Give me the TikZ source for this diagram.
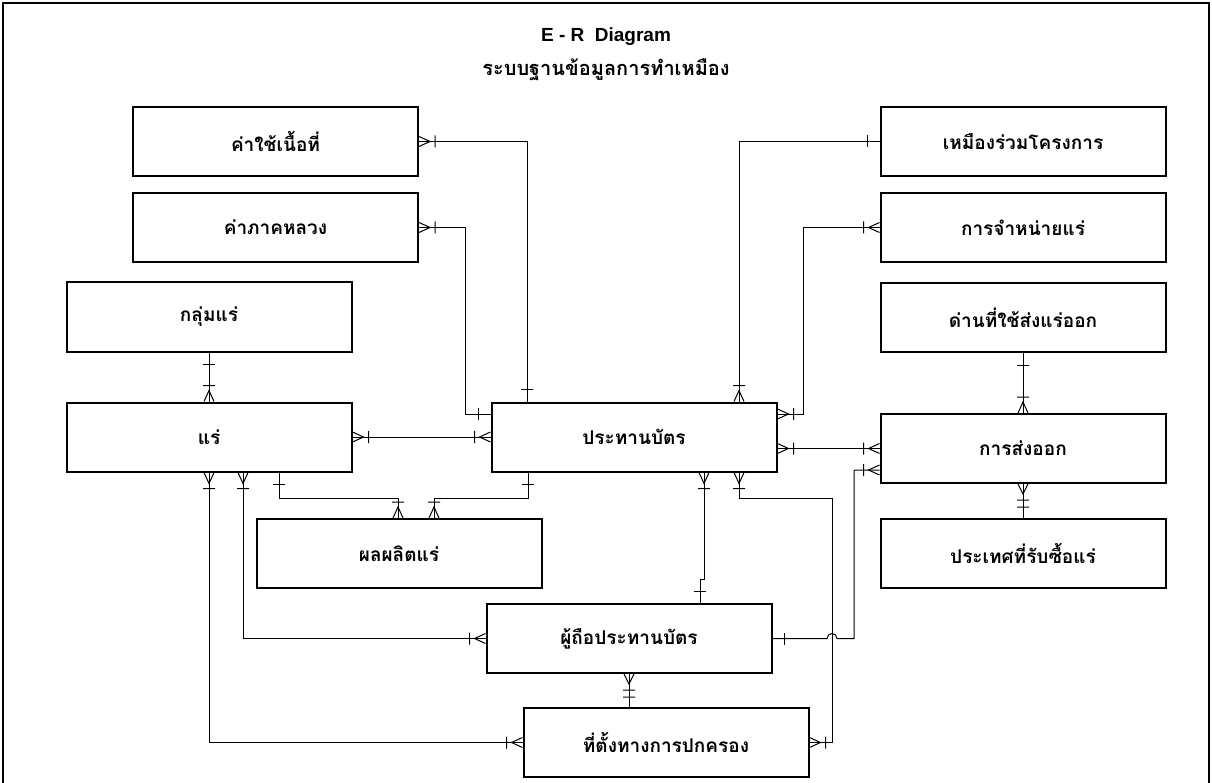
\documentclass[tikz,border=0pt]{standalone}
\usepackage{fontspec}
\setmainfont{Liberation Sans}
\newfontfamily\thaifont[Script=Thai]{Loma}
\usetikzlibrary{positioning}

% crow's foot ends
\pgfdeclarearrow{
  name = erone,
  setup code = {
    \pgfarrowssettipend{0pt}
    \pgfarrowssetlineend{0pt}
    \pgfarrowssetbackend{-13pt}
    \pgfarrowshullpoint{0pt}{6pt}
    \pgfarrowshullpoint{-13pt}{6pt}
    \pgfarrowshullpoint{-13pt}{-6pt}
    \pgfarrowshullpoint{0pt}{-6pt}
  },
  drawing code = {
    \pgfpathmoveto{\pgfpoint{-12pt}{6pt}}
    \pgfpathlineto{\pgfpoint{-12pt}{-6pt}}
    \pgfusepathqstroke
  }
}
\pgfdeclarearrow{
  name = ermany,
  setup code = {
    \pgfarrowssettipend{0pt}
    \pgfarrowssetlineend{0pt}
    \pgfarrowssetbackend{-17pt}
    \pgfarrowshullpoint{0pt}{6pt}
    \pgfarrowshullpoint{-17pt}{6pt}
    \pgfarrowshullpoint{-17pt}{-6pt}
    \pgfarrowshullpoint{0pt}{-6pt}
  },
  drawing code = {
    \pgfpathmoveto{\pgfpoint{0pt}{5pt}}
    \pgfpathlineto{\pgfpoint{-11pt}{0pt}}
    \pgfpathlineto{\pgfpoint{0pt}{-5pt}}
    \pgfpathmoveto{\pgfpoint{-16pt}{6pt}}
    \pgfpathlineto{\pgfpoint{-16pt}{-6pt}}
    \pgfusepathqstroke
  }
}
\pgfdeclarearrow{
  name = ermanytwo,
  setup code = {
    \pgfarrowssettipend{0pt}
    \pgfarrowssetlineend{0pt}
    \pgfarrowssetbackend{-24pt}
    \pgfarrowshullpoint{0pt}{6pt}
    \pgfarrowshullpoint{-24pt}{6pt}
    \pgfarrowshullpoint{-24pt}{-6pt}
    \pgfarrowshullpoint{0pt}{-6pt}
  },
  drawing code = {
    \pgfpathmoveto{\pgfpoint{0pt}{5pt}}
    \pgfpathlineto{\pgfpoint{-10pt}{0pt}}
    \pgfpathlineto{\pgfpoint{0pt}{-5pt}}
    \pgfpathmoveto{\pgfpoint{-16pt}{6pt}}
    \pgfpathlineto{\pgfpoint{-16pt}{-6pt}}
    \pgfpathmoveto{\pgfpoint{-23pt}{6pt}}
    \pgfpathlineto{\pgfpoint{-23pt}{-6pt}}
    \pgfusepathqstroke
  }
}

\begin{document}
\begin{tikzpicture}[
    x=1pt, y=-1pt,
    every node/.style={inner sep=0pt},
    entity/.style={
        rectangle,
        draw,
        line width=2pt,
        minimum width=285pt,
        minimum height=69pt,
        align=center,
        font=\thaifont\bfseries\fontsize{19}{23}\selectfont
    },
    link/.style={line width=1pt},
    frame/.style={line width=2pt}
]
\useasboundingbox (0,0) rectangle (1212,783);
\draw[frame] (3,783) |- (1209,3) -- (1209,783);

% Titles
\node (ertitle) at (606,37) [font=\bfseries\fontsize{19}{22}\selectfont] {E - R~ Diagram};
\node (ersub) at (606,70) [font=\thaifont\bfseries\fontsize{20}{24}\selectfont] {ระบบฐานข้อมูลการทำเหมือง};

% Entities
\node (fee) [entity] at (275.5,141.5) {ค่าใช้เนื้อที่};
\node (royalty) [entity, below=15pt of fee] {ค่าภาคหลวง};
\node (mingroup) [entity] at (209,317) {กลุ่มแร่};
\node (mineral) [entity] at (209,437) {แร่};
\node (concession) [entity] at (634,437) {ประทานบัตร};
\node (product) [entity] at (399,553.5) {ผลผลิตแร่};
\node (holder) [entity] at (629,638.5) {ผู้ถือประทานบัตร};
\node (location) [entity] at (666,742.5) {ที่ตั้งทางการปกครอง};
\node (jointmine) [entity] at (1023,141.5) {เหมืองร่วมโครงการ};
\node (sale) [entity, below=15pt of jointmine] {การจำหน่ายแร่};
\node (port) [entity] at (1023,317.5) {ด่านที่ใช้ส่งแร่ออก};
\node (export) [entity] at (1023,448.5) {การส่งออก};
\node (buyer) [entity] at (1023,553) {ประเทศที่รับซื้อแร่};

% Relationships
\draw[link, ermany-erone] (fee.east) -| ([xshift=-107pt]concession.north);
\draw[link, ermany-erone] (royalty.east) -| ([xshift=-25.5pt,yshift=23pt]concession.west) -- ([yshift=23pt]concession.west);
\draw[link, ermany-ermany] (mineral.east) -- (concession.west);
\draw[link, erone-ermany] (mingroup.south) -- (mineral.north);
\draw[link, erone-ermany] ([xshift=70pt]mineral.south) -- ++(0,26) -| ([xshift=-1pt]product.north);
\draw[link, erone-ermany] ([xshift=-106pt]concession.south) -- ++(0,26) -| ([xshift=35pt]product.north);
\draw[link, ermany-ermany] ([xshift=34pt]mineral.south) |- (holder.west);
\draw[link, ermany-ermany] (mineral.south) |- (location.west);
\draw[link, ermany-erone] ([xshift=105pt]concession.north) |- (jointmine.west);
\draw[link, ermany-ermany] ([yshift=23pt]concession.east) -- ++(25.5,0) |- (sale.west);
\draw[link, ermany-ermany] ([yshift=-11.5pt]concession.east) -- (export.west);
\draw[link, erone-ermany] (port.south) -- (export.north);
\draw[link, ermanytwo-] (export.south) -- (buyer.north);
\draw[link, ermany-erone] ([xshift=70pt]concession.south) -- ++(0,107) -| ([xshift=71pt]holder.north);
\draw[link, ermany-ermany] ([xshift=105pt]concession.south) -- ++(0,26) -- ++(93,0) coordinate (bend) |- (location.east);
\coordinate (cross) at (bend |- holder.east);
\draw[link, erone-ermany] (holder.east) -- ([xshift=-5pt]cross) arc[start angle=180, end angle=0, radius=5pt]
    -| ([xshift=-25.5pt,yshift=-21.5pt]export.west) -- ([yshift=-21.5pt]export.west);
\draw[link, ermanytwo-] (holder.south) -- (holder.south |- location.north);

\end{tikzpicture}
\end{document}
